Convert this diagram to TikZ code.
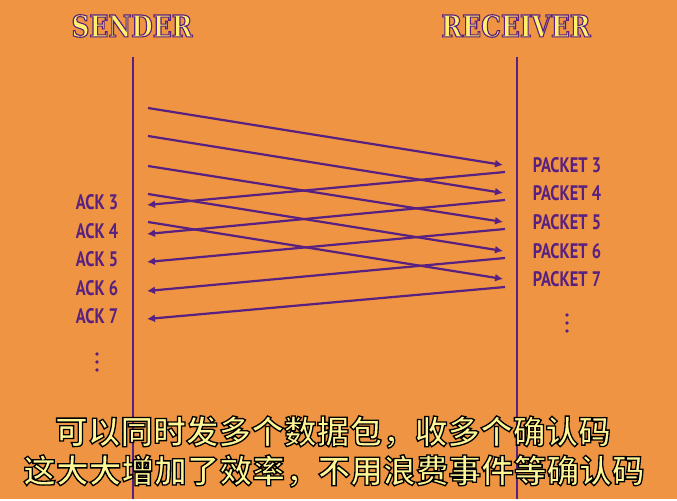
\documentclass[tikz,border=0pt]{standalone}
\usepackage{fontspec}
\usepackage{tikz}
\usetikzlibrary{arrows.meta}
\newfontfamily\cjk{Noto Sans CJK SC Bold}
\newfontfamily\lblfont{PT Sans Bold}[FakeStretch=0.78]
\newfontfamily\headfont{DejaVu Serif}[FakeStretch=0.83]
\definecolor{bgorange}{RGB}{238,148,66}
\definecolor{tcppurple}{RGB}{88,32,128}
\definecolor{headyellow}{RGB}{255,240,110}
\definecolor{subyellow}{RGB}{255,246,150}
% text with a stroked outline: #1 stroke colour (rgb), #2 width, #3 text
\newcommand{\outlined}[3]{\special{pdf:literal direct #1 RG #2 w 2 Tr}#3\special{pdf:literal direct 0 Tr}}

\begin{document}
\begin{tikzpicture}[x=1pt,y=-1pt,
    lbl/.style={text=tcppurple,inner sep=0pt,font=\lblfont\fontsize{21}{21}\selectfont},
    head/.style={inner sep=0pt,text=headyellow,font=\headfont\bfseries\fontsize{30}{30}\selectfont},
    sub/.style={inner sep=0pt,text=subyellow,font=\cjk\fontsize{32.7}{32.7}\selectfont},
    wire/.style={draw=tcppurple,line width=2.4pt},
    msg/.style={draw=tcppurple,line width=2.2pt,-{Latex[length=8pt,width=8pt]}}]
  \fill[bgorange](0,0)rectangle(677,499);
  % headers
  \node[head](sender)at(132,26){\outlined{0.35 0.12 0.5}{1.1}{SENDER}};
  \node[head](receiver)at(516,26){\outlined{0.35 0.12 0.5}{1.1}{RECEIVER}};
  % time lines
  \coordinate(stop)at(133,57);
  \coordinate(sbot)at(133,499);
  \coordinate(rtop)at(517,57);
  \coordinate(rbot)at(517,499);
  \draw[wire](stop)--(sbot);
  \draw[wire](rtop)--(rbot);
  % packets
  \foreach \i/\a/\b in {3/108/165,4/136/193,5/166/222,6/194/251,7/222/279}{
    \coordinate(s\i)at(148,\a);
    \coordinate(r\i)at(503,\b);
    \draw[msg](s\i)--(r\i);
    \node[lbl](p\i)at(567,\b){PACKET \i};
  }
  % acks
  \foreach \i/\a/\b in {3/172/205,4/200/234,5/229/262,6/258/291,7/287/319}{
    \coordinate(q\i)at(505,\a);
    \coordinate(k\i)at(147,\b);
    \draw[msg](q\i)--(k\i);
    \node[lbl](a\i)at(97,\b-3){ACK \i};
  }
  % more
  \foreach \y in {354,362,370}{
    \fill[tcppurple](97,\y)circle(1.8);
  }
  \foreach \y in {315,323,331}{
    \fill[tcppurple](567,\y)circle(1.8);
  }
  % subtitle
  \node[sub](line1)at(333,432){\outlined{0 0 0}{1.3}{可以同时发多个数据包，收多个确认码}};
  \node[sub](line2)at(334,471){\outlined{0 0 0}{1.3}{这大大增加了效率，不用浪费事件等确认码}};
\end{tikzpicture}
\end{document}
